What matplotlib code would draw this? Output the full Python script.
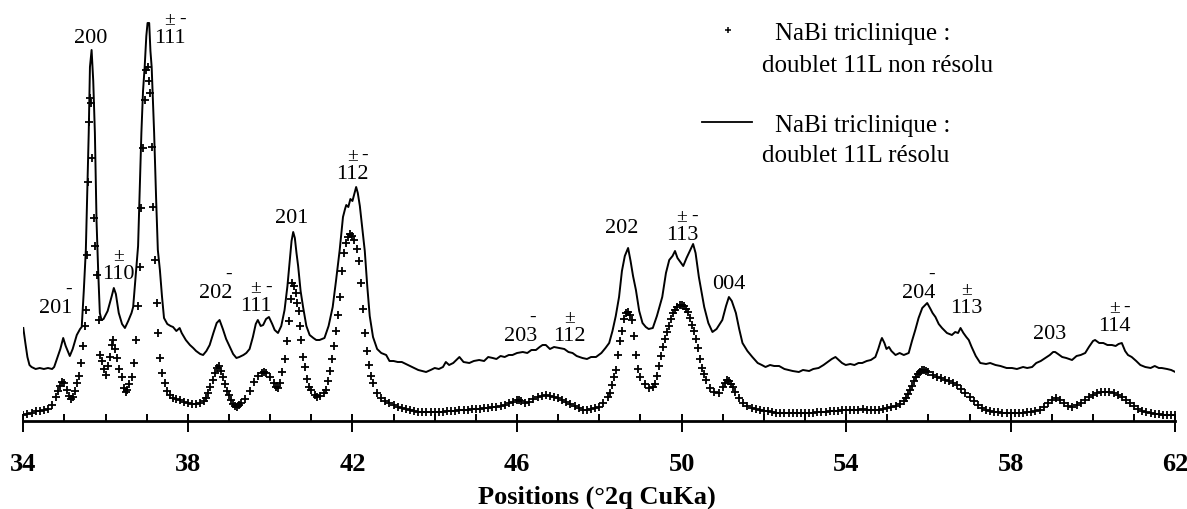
import numpy as np
import matplotlib
matplotlib.use('Agg')
import matplotlib.pyplot as plt
from matplotlib.ticker import MultipleLocator
from matplotlib.lines import Line2D

plt.rcParams['font.family'] = ['Liberation Serif', 'DejaVu Serif']

# doublet 11L non resolu (croix) : 2theta / intensite (unites arbitraires)
plus_x = [34.0, 34.1, 34.2, 34.3, 34.4, 34.5, 34.6, 34.7, 34.8, 34.85, 34.9, 34.95, 35.0, 35.05, 35.1, 35.15,
          35.2, 35.25, 35.3, 35.35, 35.4, 35.45, 35.5, 35.53, 35.55, 35.57, 35.59, 35.62, 35.65, 35.68, 35.71,
          35.75, 35.8, 35.84, 35.87, 35.92, 35.96, 36.0, 36.05, 36.1, 36.15, 36.18, 36.22, 36.27, 36.33, 36.39,
          36.45, 36.49, 36.53, 36.58, 36.63, 36.68, 36.74, 36.79, 36.83, 36.87, 36.9, 36.95, 36.99, 37.03, 37.06,
          37.09, 37.13, 37.16, 37.2, 37.24, 37.28, 37.32, 37.38, 37.44, 37.5, 37.56, 37.65, 37.7, 37.8, 37.9,
          38.0, 38.1, 38.2, 38.3, 38.4, 38.45, 38.5, 38.55, 38.6, 38.65, 38.7, 38.75, 38.8, 38.85, 38.9, 38.95,
          39.0, 39.05, 39.1, 39.15, 39.2, 39.25, 39.3, 39.4, 39.5, 39.6, 39.7, 39.8, 39.85, 39.9, 40.0, 40.1,
          40.15, 40.2, 40.25, 40.3, 40.35, 40.4, 40.45, 40.5, 40.54, 40.58, 40.62, 40.66, 40.7, 40.73, 40.76,
          40.8, 40.84, 40.9, 40.95, 41.0, 41.1, 41.15, 41.2, 41.3, 41.35, 41.4, 41.45, 41.5, 41.55, 41.6, 41.65,
          41.7, 41.75, 41.8, 41.85, 41.9, 41.95, 42.0, 42.05, 42.1, 42.15, 42.2, 42.25, 42.3, 42.35, 42.4, 42.45,
          42.5, 42.6, 42.7, 42.8, 42.9, 43.0, 43.1, 43.2, 43.3, 43.4, 43.5, 43.6, 43.7, 43.8, 43.9, 44.0, 44.1,
          44.2, 44.3, 44.4, 44.5, 44.6, 44.7, 44.8, 44.9, 45.0, 45.1, 45.2, 45.3, 45.4, 45.5, 45.6, 45.7, 45.8,
          45.9, 46.0, 46.05, 46.1, 46.2, 46.3, 46.4, 46.5, 46.6, 46.7, 46.8, 46.9, 47.0, 47.1, 47.2, 47.3, 47.4,
          47.5, 47.6, 47.7, 47.8, 47.9, 48.0, 48.1, 48.2, 48.25, 48.3, 48.35, 48.4, 48.45, 48.5, 48.55, 48.6,
          48.65, 48.7, 48.75, 48.8, 48.85, 48.9, 48.95, 49.0, 49.1, 49.2, 49.3, 49.35, 49.4, 49.45, 49.5, 49.55,
          49.6, 49.65, 49.7, 49.75, 49.8, 49.85, 49.9, 49.95, 50.0, 50.05, 50.1, 50.15, 50.2, 50.25, 50.3, 50.35,
          50.4, 50.45, 50.5, 50.55, 50.6, 50.7, 50.8, 50.9, 51.0, 51.05, 51.1, 51.15, 51.2, 51.25, 51.3, 51.4,
          51.5, 51.6, 51.7, 51.8, 51.9, 52.0, 52.1, 52.2, 52.3, 52.4, 52.5, 52.6, 52.7, 52.8, 52.9, 53.0, 53.1,
          53.2, 53.3, 53.4, 53.5, 53.6, 53.7, 53.8, 53.9, 54.0, 54.1, 54.2, 54.3, 54.4, 54.5, 54.6, 54.7, 54.8,
          54.9, 55.0, 55.1, 55.2, 55.3, 55.4, 55.45, 55.5, 55.55, 55.6, 55.65, 55.7, 55.75, 55.8, 55.85, 55.9,
          55.95, 56.0, 56.1, 56.2, 56.3, 56.4, 56.5, 56.6, 56.7, 56.8, 56.9, 57.0, 57.1, 57.2, 57.3, 57.4, 57.5,
          57.6, 57.7, 57.8, 57.9, 58.0, 58.1, 58.2, 58.3, 58.4, 58.5, 58.6, 58.7, 58.8, 58.9, 59.0, 59.1, 59.2,
          59.3, 59.4, 59.5, 59.6, 59.7, 59.8, 59.9, 60.0, 60.1, 60.2, 60.3, 60.4, 60.5, 60.6, 60.7, 60.8, 60.9,
          61.0, 61.1, 61.2, 61.3, 61.4, 61.5, 61.6, 61.7, 61.8, 61.9, 62.0]
plus_y = [6, 7, 8, 10, 10, 11, 12, 16, 24, 30, 35, 39, 38, 31, 25, 22,
          24, 30, 38, 45, 58, 75, 95, 111, 166, 239, 299, 323, 318, 263, 203,
          175, 146, 101, 66, 60, 52, 46, 55, 64, 76, 81, 72, 63, 52, 44,
          33, 29, 31, 37, 44, 58, 81, 115, 154, 213, 273, 321, 351, 354, 340,
          328, 274, 214, 161, 118, 88, 63, 48, 38, 30, 26, 23, 22, 21, 19,
          18, 17, 17, 18, 20, 23, 28, 34, 41, 48, 53, 55, 50, 44, 37, 30,
          26, 21, 17, 15, 14, 16, 18, 22, 30, 39, 45, 48, 49, 48, 44, 38,
          34, 33, 38, 49, 62, 80, 100, 122, 138, 135, 128, 118, 110, 95, 81,
          64, 54, 42, 34, 31, 26, 24, 25, 28, 31, 40, 50, 62, 75, 90, 106,
          124, 150, 168, 178, 184, 187, 185, 181, 172, 160, 138, 112, 88, 70, 56, 45,
          38, 28, 23, 20, 18, 16, 14, 13, 12, 11, 10, 9, 9, 9, 9, 9, 9,
          9, 10, 10, 10, 11, 11, 11, 12, 12, 12, 13, 13, 14, 14, 15, 16, 18,
          19, 21, 21, 20, 18, 19, 22, 24, 25, 26, 25, 24, 23, 21, 19, 17, 15,
          13, 11, 11, 12, 13, 14, 18, 24, 28, 36, 44, 51, 66, 80, 90, 102,
          108, 109, 106, 101, 85, 66, 52, 44, 37, 33, 34, 37, 45, 55, 65, 74,
          82, 89, 95, 102, 108, 111, 114, 116, 116, 115, 112, 109, 103, 96, 90, 82,
          73, 62, 53, 47, 41, 33, 29, 28, 34, 38, 41, 40, 37, 34, 29, 23,
          18, 15, 13, 12, 11, 10, 10, 9, 8, 8, 8, 8, 8, 8, 8, 8, 8,
          8, 9, 9, 9, 10, 10, 10, 11, 11, 11, 11, 11, 12, 11, 11, 11, 11,
          12, 13, 14, 15, 17, 20, 23, 27, 31, 35, 40, 44, 47, 49, 51, 51,
          50, 49, 46, 44, 43, 41, 40, 38, 36, 32, 28, 24, 20, 16, 13, 11, 10,
          9, 9, 8, 8, 8, 8, 8, 8, 9, 9, 10, 11, 14, 18, 21, 23, 21,
          18, 15, 14, 16, 18, 21, 24, 26, 28, 29, 29, 29, 28, 26, 24, 21, 18,
          15, 12, 10, 9, 8, 7, 7, 6, 6, 6, 6]

# doublet 11L resolu (trait continu, decale)
line_x = [34.0, 34.05, 34.1, 34.15, 34.2, 34.3, 34.4, 34.5, 34.6, 34.7, 34.75, 34.8, 34.9, 34.97, 35.03, 35.1,
          35.13, 35.2, 35.3, 35.38, 35.42, 35.47, 35.52, 35.56, 35.59, 35.62, 35.66, 35.7, 35.74, 35.78, 35.82,
          35.86, 35.9, 35.95, 36.05, 36.15, 36.2, 36.25, 36.32, 36.4, 36.47, 36.55, 36.63, 36.67, 36.74, 36.79,
          36.83, 36.87, 36.91, 36.95, 36.99, 37.02, 37.06, 37.09, 37.12, 37.18, 37.23, 37.27, 37.32, 37.37, 37.42,
          37.5, 37.58, 37.64, 37.72, 37.8, 37.85, 37.95, 38.05, 38.13, 38.2, 38.3, 38.37, 38.45, 38.53, 38.62,
          38.7, 38.77, 38.85, 38.93, 39.02, 39.1, 39.18, 39.25, 39.35, 39.42, 39.5, 39.58, 39.65, 39.7, 39.77,
          39.83, 39.9, 39.97, 40.05, 40.11, 40.19, 40.27, 40.35, 40.42, 40.47, 40.52, 40.56, 40.6, 40.64, 40.68,
          40.74, 40.8, 40.88, 40.96, 41.05, 41.12, 41.2, 41.32, 41.42, 41.52, 41.6, 41.69, 41.73, 41.77, 41.82,
          41.85, 41.9, 41.95, 42.0, 42.05, 42.09, 42.13, 42.18, 42.21, 42.26, 42.3, 42.36, 42.42, 42.5, 42.6,
          42.7, 42.82, 42.9, 43.0, 43.1, 43.2, 43.3, 43.4, 43.5, 43.6, 43.7, 43.79, 43.9, 44.0, 44.1, 44.2,
          44.27, 44.35, 44.45, 44.55, 44.6, 44.7, 44.84, 44.95, 45.08, 45.2, 45.3, 45.41, 45.5, 45.6, 45.7,
          45.8, 45.89, 46.0, 46.14, 46.25, 46.35, 46.46, 46.55, 46.62, 46.7, 46.8, 46.9, 47.03, 47.15, 47.25,
          47.35, 47.45, 47.59, 47.7, 47.8, 47.92, 48.05, 48.15, 48.24, 48.32, 48.4, 48.48, 48.55, 48.62, 48.7,
          48.76, 48.82, 48.89, 48.97, 49.05, 49.13, 49.2, 49.3, 49.4, 49.53, 49.62, 49.7, 49.78, 49.84, 49.9,
          50.04, 50.12, 50.2, 50.28, 50.34, 50.42, 50.55, 50.65, 50.75, 50.85, 50.99, 51.08, 51.15, 51.22, 51.32,
          51.4, 51.48, 51.6, 51.72, 51.85, 51.95, 52.04, 52.15, 52.25, 52.37, 52.5, 52.6, 52.7, 52.85, 52.95,
          53.1, 53.2, 53.33, 53.45, 53.55, 53.65, 53.74, 53.82, 53.9, 53.99, 54.1, 54.2, 54.3, 54.39, 54.5,
          54.6, 54.71, 54.78, 54.84, 54.87, 54.93, 54.98, 55.04, 55.1, 55.2, 55.3, 55.4, 55.52, 55.6, 55.68,
          55.76, 55.85, 55.92, 55.97, 56.05, 56.1, 56.17, 56.25, 56.33, 56.45, 56.57, 56.65, 56.72, 56.78, 56.85,
          56.92, 56.98, 57.05, 57.15, 57.26, 57.4, 57.5, 57.63, 57.75, 57.9, 58.03, 58.15, 58.3, 58.4, 58.52,
          58.62, 58.73, 58.84, 58.95, 59.03, 59.08, 59.15, 59.25, 59.35, 59.42, 59.49, 59.6, 59.7, 59.81, 59.9,
          60.0, 60.05, 60.15, 60.25, 60.35, 60.46, 60.55, 60.62, 60.7, 60.78, 60.85, 60.94, 61.05, 61.15, 61.27,
          61.4, 61.5, 61.6, 61.67, 61.8, 61.9, 62.0]
line_y = [93, 78, 64, 56, 54, 52, 53, 52, 53, 52, 54, 60, 72, 83, 75, 68,
          65, 72, 86, 92, 94, 130, 171, 240, 288, 354, 371, 340, 288, 200, 150,
          108, 101, 102, 110, 125, 133, 127, 108, 97, 93, 100, 108, 114, 150, 175,
          230, 288, 330, 354, 385, 398, 398, 370, 354, 288, 220, 171, 151, 125, 103,
          97, 95, 94, 90, 93, 88, 81, 76, 73, 70, 67, 66, 70, 76, 88,
          98, 101, 92, 82, 74, 67, 63, 64, 66, 68, 72, 84, 97, 101, 95,
          96, 102, 104, 97, 91, 88, 95, 111, 135, 158, 180, 189, 183, 168, 155,
          130, 114, 95, 86, 83, 81, 81, 83, 95, 114, 140, 171, 188, 204, 212,
          216, 214, 222, 220, 228, 234, 228, 215, 204, 185, 170, 135, 105, 84, 72,
          68, 66, 60, 60, 59, 59, 57, 55, 53, 51, 50, 49, 51, 53, 52, 54,
          59, 56, 58, 62, 64, 59, 58, 60, 61, 60, 64, 63, 62, 65, 64,
          66, 66, 68, 69, 68, 71, 71, 74, 76, 76, 72, 74, 73, 72, 69,
          68, 65, 63, 62, 64, 64, 68, 73, 78, 90, 105, 124, 150, 165, 173,
          160, 145, 131, 110, 98, 94, 92, 93, 105, 124, 148, 161, 165, 170, 163,
          155, 163, 170, 177, 168, 144, 114, 98, 89, 92, 101, 115, 124, 120, 108,
          92, 78, 70, 64, 58, 56, 54, 56, 55, 55, 52, 51, 50, 49, 51,
          50, 52, 53, 56, 59, 62, 64, 61, 58, 56, 57, 56, 58, 58, 60,
          61, 64, 72, 80, 83, 78, 72, 74, 70, 66, 68, 66, 68, 80, 91,
          103, 113, 116, 118, 112, 108, 104, 97, 93, 88, 86, 89, 88, 93, 88,
          84, 81, 74, 65, 58, 57, 58, 56, 55, 53, 53, 52, 54, 53, 54,
          58, 60, 63, 66, 69, 69, 67, 64, 63, 62, 61, 65, 66, 68, 74,
          80, 81, 78, 78, 76, 76, 75, 77, 78, 70, 66, 64, 60, 56, 54,
          53, 55, 53, 53, 52, 51, 49]

# indexation : texte, position, hauteur (ligne de base), chiffre surmonte de +-, chiffre surmonte de -
pics = [('201', 34.79, 109, None, 2),
        ('200', 35.64, 379, None, None),
        ('110', 36.31, 143, 1, None),
        ('111', 37.56, 379, 1, 2),
        ('202', 38.68, 124, None, 2),
        ('111', 39.65, 111, 1, 2),
        ('201', 40.52, 199, None, None),
        ('112', 42.0, 243, 1, 2),
        ('203', 46.08, 81, None, 2),
        ('112', 47.28, 81, 1, None),
        ('202', 48.55, 189, None, None),
        ('113', 50.01, 182, 1, 2),
        ('004', 51.15, 133, None, None),
        ('204', 55.76, 124, None, 2),
        ('113', 56.93, 109, 1, None),
        ('203', 58.94, 83, None, None),
        ('114', 60.52, 91, 1, 2)]

W, H = 1187, 510
fig = plt.figure(figsize=(W / 100, H / 100), dpi=100)
ax = fig.add_axes([23.3 / W, 88 / H, 1152 / W, 422 / H])

ax.plot(line_x, line_y, color='black', lw=1.4)
ax.plot(plus_x, plus_y, ls='none', marker='+', ms=5.5, mew=1.3, color='black')

ax.set_xlim(34, 62)
ax.set_ylim(0, 422)
for s in ['left', 'right', 'top']:
    ax.spines[s].set_visible(False)
ax.spines['bottom'].set_linewidth(2)
ax.set_yticks([])
ax.set_xticks(np.arange(34, 63, 4))
ax.xaxis.set_minor_locator(MultipleLocator(1))
ax.xaxis.remove_overlapping_locs = False
ax.tick_params(axis='x', which='major', direction='out', length=8, width=1.4, labelsize=19, pad=14)
ax.tick_params(axis='x', which='minor', direction='in', length=5, width=1.4)
for lab in ax.get_xticklabels():
    lab.set_fontweight('bold')

# etiquettes des pics
for txt, x, y, pm, moins in pics:
    ax.text(x, y, txt, ha='center', va='baseline', fontsize=16, clip_on=False)
    if pm is not None:
        ax.annotate('±', xy=(x, y), xytext=((pm - 1) * 8, 16), textcoords='offset points',
                    ha='center', va='center', fontsize=14)
    if moins is not None:
        ax.annotate('-', xy=(x, y), xytext=((moins - 1) * 8 + 1, 17), textcoords='offset points',
                    ha='center', va='center', fontsize=14)

fig.text(596.7 / W, 1 - 504 / H, 'Positions (°2q CuKa)', ha='center', va='baseline',
         fontsize=19, fontweight='bold')

# legende faite a la main
fig.add_artist(Line2D([728 / W], [1 - 30.7 / H], marker='+', ms=4.5, mew=1.1, color='black',
                      transform=fig.transFigure))
fig.add_artist(Line2D([701.7 / W, 751.7 / W], [1 - 122.7 / H, 1 - 122.7 / H], lw=1.3, color='black',
                      transform=fig.transFigure))
fig.text(775 / W, 1 - 40 / H, 'NaBi triclinique :', fontsize=18, va='baseline')
fig.text(761.7 / W, 1 - 71.7 / H, 'doublet 11L non résolu', fontsize=18, va='baseline')
fig.text(775 / W, 1 - 131.7 / H, 'NaBi triclinique :', fontsize=18, va='baseline')
fig.text(761.7 / W, 1 - 161.7 / H, 'doublet 11L résolu', fontsize=18, va='baseline')

fig.savefig('out.png', dpi=100)
